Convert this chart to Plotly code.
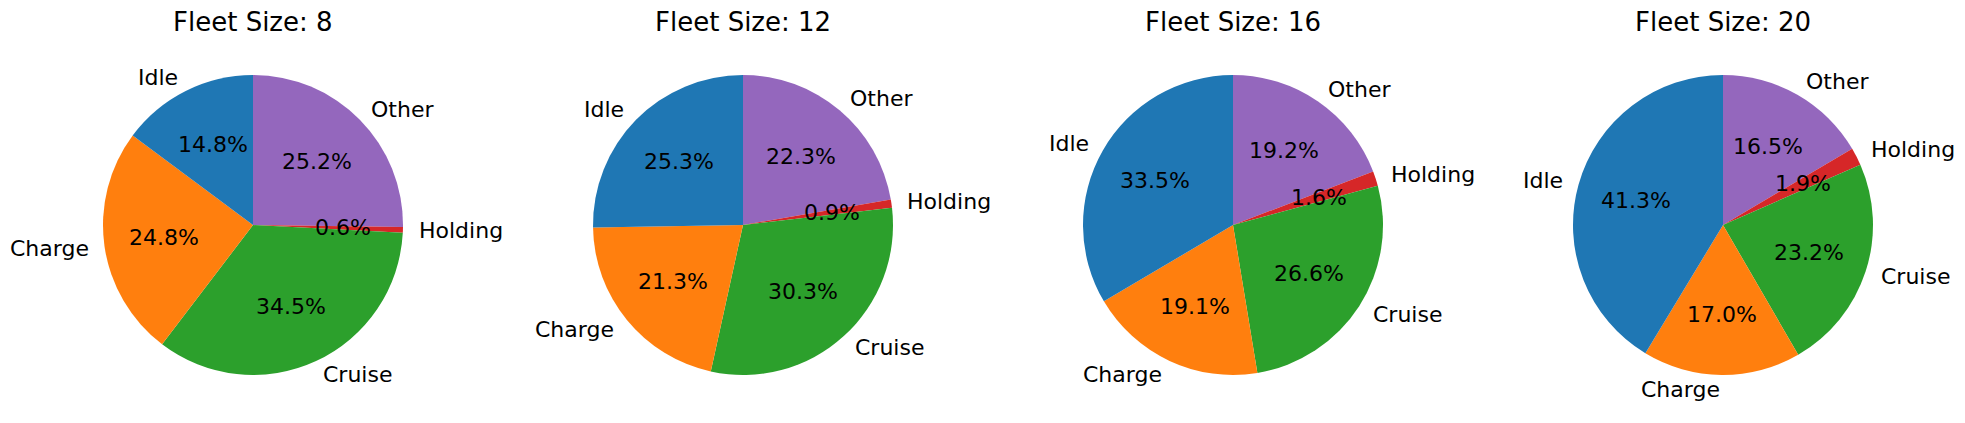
import math
import plotly.graph_objects as go

# -- DATA

categories = ['Idle', 'Charge', 'Cruise', 'Holding', 'Other']
fleet_sizes = [8, 12, 16, 20]
shares_fleet_8 = [14.8, 24.8, 34.5, 0.6, 25.2]
shares_fleet_12 = [25.3, 21.3, 30.3, 0.9, 22.3]
shares_fleet_16 = [33.5, 19.1, 26.6, 1.6, 19.2]
shares_fleet_20 = [41.3, 17.0, 23.2, 1.9, 16.5]
all_shares = [shares_fleet_8, shares_fleet_12, shares_fleet_16, shares_fleet_20]

colors = ['#1f77b4', '#ff7f0e', '#2ca02c', '#d62728', '#9467bd']

# -- LAYOUT (pixels, page coordinates)

page_margin = 8          # default body margin of the html page
W, H = 1965 - 2 * page_margin, 423 - 2 * page_margin
radius = 150
centers_x = [253, 743, 1233, 1723]
center_y = 225
title_y = 22
label_dist = 1.1
pct_dist = 0.6
font_family = 'DejaVu Sans'
text_size = 22
title_size = 26


def px_to_paper(x, y):
    # page pixel -> paper coordinates of the figure
    return (x - page_margin) / W, 1 - (y - page_margin) / H


fig = go.Figure()
annotations = []

for fleet, shares, cx in zip(fleet_sizes, all_shares, centers_x):
    x0, y0 = px_to_paper(cx - radius, center_y + radius)
    x1, y1 = px_to_paper(cx + radius, center_y - radius)
    # clockwise from 12 o'clock on the reversed order == counterclockwise from 12 o'clock
    fig.add_trace(go.Pie(
        labels=categories[::-1],
        values=shares[::-1],
        sort=False,
        direction='clockwise',
        rotation=0,
        marker=dict(colors=colors[::-1], line=dict(width=0)),
        textinfo='none',
        hoverinfo='label+percent',
        domain=dict(x=[x0, x1], y=[y0, y1]),
    ))

    total = sum(shares)
    start = 90.0
    for label, v in zip(categories, shares):
        sweep = v / total * 360
        mid = math.radians(start + sweep / 2)
        start += sweep

        # category label outside the slice
        lx = cx + label_dist * radius * math.cos(mid)
        ly = center_y - label_dist * radius * math.sin(mid)
        x, y = px_to_paper(lx, ly)
        annotations.append(dict(
            x=x, y=y, xref='paper', yref='paper', text=label,
            showarrow=False, xanchor='left' if lx > cx else 'right',
            yanchor='middle', borderpad=0,
            font=dict(family=font_family, size=text_size, color='black'),
        ))

        # percentage inside the slice
        tx = cx + pct_dist * radius * math.cos(mid)
        ty = center_y - pct_dist * radius * math.sin(mid)
        x, y = px_to_paper(tx, ty)
        annotations.append(dict(
            x=x, y=y, xref='paper', yref='paper',
            text=f'{v / total * 100:.1f}%',
            showarrow=False, xanchor='center', yanchor='middle', borderpad=0,
            font=dict(family=font_family, size=text_size, color='black'),
        ))

    # subplot title
    x, y = px_to_paper(cx, title_y)
    annotations.append(dict(
        x=x, y=y, xref='paper', yref='paper', text=f'Fleet Size: {fleet}',
        showarrow=False, xanchor='center', yanchor='middle',
        font=dict(family=font_family, size=title_size, color='black'),
    ))

fig.update_layout(
    width=W,
    height=H,
    autosize=False,
    margin=dict(l=0, r=0, t=0, b=0),
    showlegend=False,
    paper_bgcolor='white',
    plot_bgcolor='white',
    annotations=annotations,
)

fig.write_html("out.html")
